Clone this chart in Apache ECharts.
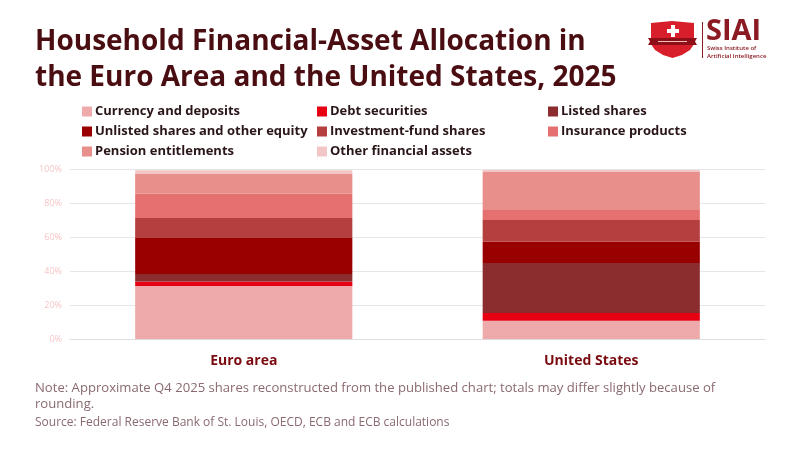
<!DOCTYPE html>
<html>
<head>
<meta charset="utf-8">
<script src="https://cdn.jsdelivr.net/npm/echarts@6/dist/echarts.min.js"></script>
<style>
html,body{margin:0;padding:0;background:#fff;}
#c{width:800px;height:450px;}
</style>
</head>
<body>
<div id="c"></div>
<script>
const categories = ['Euro area', 'United States'];
const seriesNames = ['Currency and deposits', 'Debt securities', 'Listed shares',
  'Unlisted shares and other equity', 'Investment-fund shares', 'Insurance products',
  'Pension entitlements', 'Other financial assets'];
const currencyDeposits = [31.3, 10.7];
const debtSecurities = [2.6, 4.7];
const listedShares = [4.5, 29.4];
const unlistedShares = [21.2, 12.6];
const investmentFund = [11.8, 12.8];
const insuranceProducts = [14.3, 5.9];
const pensionEntitlements = [11.6, 22.4];
const otherAssets = [2.3, 1.2];
const yTicks = [0, 20, 40, 60, 80, 100];

const values = [currencyDeposits, debtSecurities, listedShares, unlistedShares,
  investmentFund, insuranceProducts, pensionEntitlements, otherAssets];
const colors = ['#eeaaaa', '#e60012', '#8b2c2f', '#990000', '#b53e3f', '#e57070', '#e88e8b', '#f2c6c6'];

const FONT = 'Open Sans';
const chart = echarts.init(document.getElementById('c'));

const legendBase = {
  orient: 'vertical', itemWidth: 10, itemHeight: 10, itemGap: 7, icon: 'rect',
  textStyle: { fontFamily: FONT, fontSize: 13, fontWeight: 'bold', color: '#2a1618', padding: [0, 0, 0, -2] },
  top: 100, selectedMode: false
};

chart.setOption({
  animation: false,
  color: colors,
  textStyle: { fontFamily: FONT },
  title: {
    text: 'Household Financial-Asset Allocation in\nthe Euro Area and the United States, 2025',
    left: 30, top: 19,
    textStyle: { fontFamily: FONT, fontSize: 28, fontWeight: 'bold', color: '#4a0e12', lineHeight: 36 }
  },
  legend: [
    Object.assign({}, legendBase, { left: 77, data: [seriesNames[0], seriesNames[3], seriesNames[6]] }),
    Object.assign({}, legendBase, { left: 312, data: [seriesNames[1], seriesNames[4], seriesNames[7]] }),
    Object.assign({}, legendBase, { left: 543, data: [seriesNames[2], seriesNames[5]] })
  ],
  grid: { left: 70, right: 35, top: 169.5, bottom: 111 },
  xAxis: {
    type: 'category', data: categories,
    axisLine: { lineStyle: { color: '#dddddd' } },
    axisTick: { show: false },
    axisLabel: { fontFamily: FONT, fontSize: 14, fontWeight: 'bold', color: '#7a0a0f', margin: 15 }
  },
  yAxis: {
    type: 'value', min: yTicks[0], max: yTicks[yTicks.length - 1], interval: 20,
    axisLabel: { formatter: '{value}%', fontSize: 9, color: '#f5c6c6', margin: 8 },
    splitLine: { lineStyle: { color: '#e6e6ea' } },
    axisLine: { show: false }, axisTick: { show: false }
  },
  series: seriesNames.map((n, i) => ({
    name: n, type: 'bar', stack: 'total', barWidth: '62.5%',
    data: values[i], itemStyle: { color: colors[i] }
  })),
  graphic: [
    { type: 'text', x: 35, y: 380, style: {
      text: 'Note: Approximate Q4 2025 shares reconstructed from the published chart; totals may differ slightly because of\nrounding.',
      font: '13.1px "Open Sans"', fill: '#8a6a70', lineHeight: 16 } },
    { type: 'text', x: 35, y: 417, style: {
      text: 'Source: Federal Reserve Bank of St. Louis, OECD, ECB and ECB calculations',
      font: '12px "Open Sans"', fill: '#8a6a70' } },
    { type: 'group', x: 648, y: 20, children: [
      { type: 'polygon', shape: { points: [[3,3],[24,1],[46,3],[46,24],[42,30],[34,35],[24.5,38],[15,35],[7,30],[3,24]] }, style: { fill: '#d81e2a' } },
      { type: 'rect', shape: { x: 23, y: 5, width: 4, height: 12 }, style: { fill: '#ffffff' } },
      { type: 'rect', shape: { x: 19, y: 9, width: 12, height: 4 }, style: { fill: '#ffffff' } },
      { type: 'polygon', shape: { points: [[0,18],[49,18],[47,21.5],[49,25],[0,25],[2,21.5]] }, style: { fill: '#8e0f18' } },
      { type: 'rect', shape: { x: 10, y: 21, width: 29, height: 1 }, style: { fill: '#f0c0c0' } },
      { type: 'rect', shape: { x: 54, y: 2, width: 1, height: 36 }, style: { fill: '#8b1a22' } },
      { type: 'text', x: 58, y: -3, style: { text: 'SIAI', font: 'bold 29px "Open Sans"', fill: '#8b1a22' } },
      { type: 'text', x: 59, y: 25, style: { text: 'Swiss Institute of\nArtificial Intelligence', font: '600 6px "Open Sans"', fill: '#8b1a22', lineHeight: 7.5 } }
    ] }
  ]
});
</script>
</body>
</html>
